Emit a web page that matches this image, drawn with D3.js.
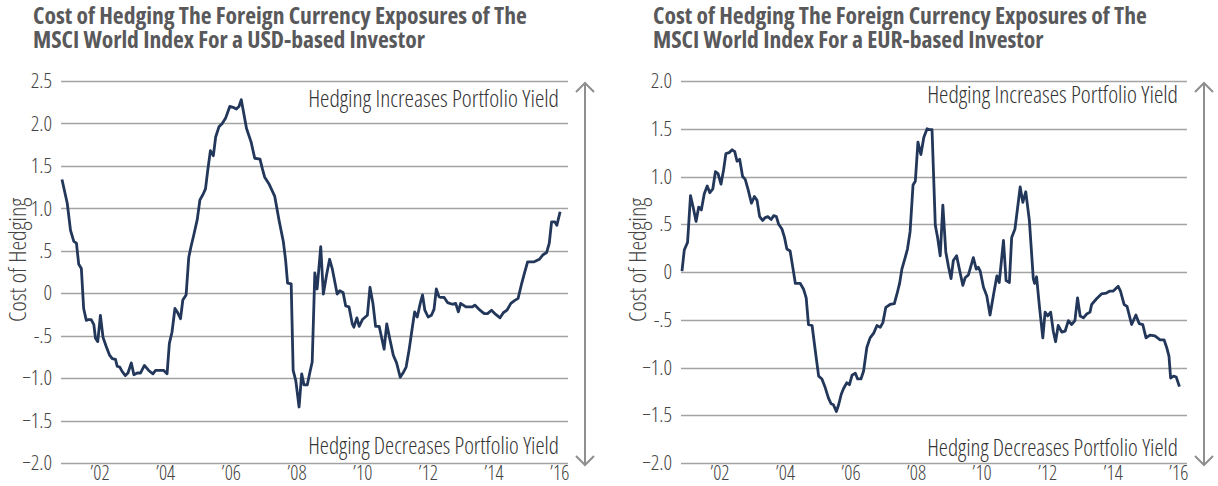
<!DOCTYPE html>
<html>
<head>
<meta charset="utf-8">
<script src="https://cdn.jsdelivr.net/npm/d3@7.9.0/dist/d3.min.js"></script>
<style>
  body { margin: 0; background: #fff; }
  svg text { font-family: "Open Sans", "Liberation Sans Narrow", "DejaVu Sans Condensed", sans-serif; font-stretch: condensed; }
</style>
</head>
<body>
<svg id="chart" width="1218" height="486"></svg>
<script>
// values, [year, cost of hedging]
const usdPoints = [
  [2000.86,1.34],[2001.02,1.06],[2001.12,0.74],[2001.22,0.61],[2001.30,0.59],[2001.37,0.34],[2001.45,0.29],
  [2001.52,-0.18],[2001.60,-0.32],[2001.67,-0.31],[2001.75,-0.31],[2001.83,-0.37],[2001.88,-0.53],[2001.95,-0.57],
  [2002.03,-0.26],[2002.11,-0.52],[2002.21,-0.63],[2002.31,-0.73],[2002.39,-0.77],[2002.49,-0.78],[2002.54,-0.86],
  [2002.62,-0.87],[2002.69,-0.92],[2002.79,-0.97],[2002.87,-0.94],[2002.97,-0.82],[2003.05,-0.96],[2003.15,-0.94],
  [2003.25,-0.94],[2003.37,-0.85],[2003.50,-0.91],[2003.63,-0.95],[2003.71,-0.91],[2003.86,-0.91],[2003.96,-0.91],
  [2004.06,-0.95],[2004.13,-0.59],[2004.21,-0.46],[2004.30,-0.18],[2004.37,-0.22],[2004.47,-0.30],[2004.54,-0.08],
  [2004.64,-0.02],[2004.72,0.42],[2004.79,0.55],[2004.87,0.68],[2004.98,0.87],[2005.06,1.10],[2005.15,1.16],
  [2005.23,1.23],[2005.30,1.45],[2005.38,1.68],[2005.47,1.62],[2005.54,1.84],[2005.64,1.96],[2005.74,2.00],
  [2005.84,2.06],[2005.97,2.20],[2006.07,2.19],[2006.17,2.17],[2006.25,2.20],[2006.32,2.28],[2006.48,1.94],
  [2006.62,1.78],[2006.73,1.59],[2006.89,1.58],[2006.96,1.47],[2007.03,1.37],[2007.16,1.29],[2007.27,1.20],
  [2007.34,1.14],[2007.47,0.86],[2007.60,0.61],[2007.67,0.39],[2007.73,0.12],[2007.84,0.11],[2007.90,-0.91],
  [2007.98,-1.03],[2008.08,-1.34],[2008.16,-0.95],[2008.23,-1.08],[2008.33,-1.08],[2008.41,-0.93],[2008.48,-0.81],
  [2008.56,0.24],[2008.63,0.05],[2008.74,0.55],[2008.82,-0.01],[2008.92,0.22],[2009.01,0.40],[2009.09,0.29],
  [2009.24,-0.01],[2009.32,0.03],[2009.42,0.01],[2009.50,-0.15],[2009.60,-0.16],[2009.70,-0.36],[2009.75,-0.40],
  [2009.84,-0.29],[2009.91,-0.39],[2010.01,-0.31],[2010.16,-0.26],[2010.24,0.07],[2010.33,-0.12],[2010.41,-0.39],
  [2010.52,-0.39],[2010.67,-0.66],[2010.75,-0.36],[2010.85,-0.55],[2010.95,-0.73],[2011.05,-0.82],[2011.16,-0.99],
  [2011.26,-0.93],[2011.34,-0.87],[2011.43,-0.67],[2011.53,-0.40],[2011.60,-0.22],[2011.68,-0.28],[2011.77,-0.12],
  [2011.84,-0.02],[2011.91,-0.20],[2012.01,-0.28],[2012.11,-0.26],[2012.19,-0.19],[2012.26,0.05],[2012.34,-0.04],
  [2012.40,-0.05],[2012.50,-0.05],[2012.60,-0.11],[2012.75,-0.13],[2012.85,-0.12],[2012.93,-0.22],[2013.00,-0.12],
  [2013.16,-0.16],[2013.36,-0.16],[2013.43,-0.14],[2013.56,-0.19],[2013.72,-0.24],[2013.82,-0.24],[2013.94,-0.20],
  [2014.07,-0.25],[2014.20,-0.29],[2014.30,-0.23],[2014.41,-0.20],[2014.53,-0.12],[2014.63,-0.09],[2014.75,-0.06],
  [2014.85,0.10],[2014.94,0.23],[2015.04,0.37],[2015.24,0.37],[2015.40,0.40],[2015.50,0.45],[2015.62,0.48],
  [2015.70,0.59],[2015.77,0.84],[2015.87,0.84],[2015.93,0.80],[2016.03,0.96]
];

const eurPoints = [
  [2000.86,0.01],[2000.93,0.23],[2001.03,0.31],[2001.12,0.80],[2001.20,0.68],[2001.29,0.53],[2001.37,0.68],
  [2001.45,0.65],[2001.54,0.82],[2001.63,0.90],[2001.71,0.83],[2001.80,0.87],[2001.88,1.05],[2001.96,1.03],
  [2002.05,0.92],[2002.13,1.07],[2002.20,1.24],[2002.30,1.25],[2002.39,1.28],[2002.47,1.26],[2002.54,1.16],
  [2002.62,1.18],[2002.71,1.00],[2002.79,0.97],[2002.88,0.86],[2002.98,0.72],[2003.07,0.79],[2003.15,0.75],
  [2003.23,0.58],[2003.32,0.54],[2003.40,0.57],[2003.48,0.58],[2003.58,0.55],[2003.66,0.59],[2003.74,0.58],
  [2003.81,0.50],[2003.91,0.45],[2003.99,0.36],[2004.06,0.24],[2004.16,0.22],[2004.25,0.03],[2004.32,-0.12],
  [2004.47,-0.12],[2004.57,-0.18],[2004.65,-0.27],[2004.72,-0.55],[2004.83,-0.56],[2004.93,-0.83],[2005.03,-1.09],
  [2005.13,-1.12],[2005.23,-1.21],[2005.33,-1.32],[2005.41,-1.38],[2005.48,-1.39],[2005.57,-1.46],[2005.64,-1.39],
  [2005.72,-1.28],[2005.79,-1.22],[2005.89,-1.16],[2005.97,-1.18],[2006.05,-1.08],[2006.15,-1.06],[2006.22,-1.12],
  [2006.32,-1.12],[2006.40,-1.04],[2006.50,-0.79],[2006.60,-0.69],[2006.71,-0.64],[2006.81,-0.56],[2006.91,-0.58],
  [2006.99,-0.53],[2007.08,-0.37],[2007.21,-0.34],[2007.34,-0.33],[2007.42,-0.23],[2007.50,-0.12],[2007.57,0.03],
  [2007.67,0.15],[2007.74,0.24],[2007.82,0.42],[2007.91,0.91],[2007.98,0.95],[2008.06,1.36],[2008.15,1.23],
  [2008.24,1.41],[2008.34,1.50],[2008.42,1.49],[2008.49,1.49],[2008.59,0.49],[2008.66,0.36],[2008.74,0.17],
  [2008.82,0.70],[2008.91,0.21],[2008.99,0.06],[2009.07,-0.07],[2009.14,0.12],[2009.24,0.17],[2009.33,0.02],
  [2009.43,-0.14],[2009.50,-0.06],[2009.60,-0.03],[2009.75,0.15],[2009.84,0.03],[2009.90,0.05],[2009.96,0.01],
  [2010.06,-0.16],[2010.16,-0.25],[2010.26,-0.45],[2010.37,-0.23],[2010.47,-0.04],[2010.54,-0.11],[2010.67,0.33],
  [2010.75,-0.09],[2010.85,-0.11],[2010.92,0.36],[2011.02,0.45],[2011.18,0.89],[2011.26,0.73],[2011.35,0.84],
  [2011.46,0.54],[2011.58,-0.07],[2011.62,-0.12],[2011.68,-0.05],[2011.77,-0.37],[2011.87,-0.69],[2011.94,-0.42],
  [2012.02,-0.46],[2012.11,-0.42],[2012.19,-0.62],[2012.26,-0.73],[2012.34,-0.56],[2012.45,-0.63],[2012.55,-0.62],
  [2012.65,-0.51],[2012.75,-0.55],[2012.85,-0.51],[2012.93,-0.27],[2013.01,-0.46],[2013.11,-0.48],[2013.21,-0.44],
  [2013.31,-0.42],[2013.36,-0.34],[2013.51,-0.28],[2013.66,-0.23],[2013.81,-0.22],[2013.92,-0.20],[2014.02,-0.20],
  [2014.17,-0.15],[2014.24,-0.20],[2014.35,-0.34],[2014.44,-0.36],[2014.58,-0.55],[2014.71,-0.45],[2014.81,-0.54],
  [2014.92,-0.55],[2015.02,-0.69],[2015.14,-0.66],[2015.29,-0.67],[2015.45,-0.71],[2015.57,-0.71],[2015.65,-0.79],
  [2015.72,-0.88],[2015.77,-1.11],[2015.86,-1.09],[2015.94,-1.10],[2016.04,-1.20]
];

const usdTicks = [2.5, 2.0, 1.5, 1.0, 0.5, 0, -0.5, -1.0, -1.5, -2.0];
const eurTicks = [2.0, 1.5, 1.0, 0.5, 0, -0.5, -1.0, -1.5, -2.0];
const yearTicks = [2002, 2004, 2006, 2008, 2010, 2012, 2014, 2016];
const yearLabels = ["’02", "’04", "’06", "’08", "’10", "’12", "’14", "’16"];
const usdTitle = ["Cost of Hedging The Foreign Currency Exposures of The", "MSCI World Index For a USD-based Investor"];
const eurTitle = ["Cost of Hedging The Foreign Currency Exposures of The", "MSCI World Index For a EUR-based Investor"];
const upLabel = "Hedging Increases Portfolio Yield";
const downLabel = "Hedging Decreases Portfolio Yield";
const yTitle = "Cost of Hedging";

const svg = d3.select('#chart');
const lineColor = '#22375a';
const gridColor = '#a3a3a3';
const textColor = '#444';

function fmt(v) {
  if (v === 0) return '0';
  if (Math.abs(v) === 0.5) return v < 0 ? '-.5' : '.5';
  return d3.format('.1f')(v);
}

// scale the font so the text spans the wanted width
function fitWidth(sel, target) {
  const size = +sel.attr('font-size');
  const w = sel.node().getComputedTextLength();
  sel.attr('font-size', size * target / w);
}

function drawPanel(p) {
  const x = d3.scaleLinear().domain([2000.83, 2016.27]).range([p.left, p.right]);
  const y = d3.scaleLinear().domain([p.ticks[p.ticks.length - 1], p.ticks[0]]).range([463, 81]);

  const g = svg.append('g');

  // title
  const t1 = g.append('text').attr('x', p.titleX).attr('y', 24)
    .attr('font-size', 20).attr('font-weight', 'bold').attr('fill', '#59595b')
    .text(p.title[0]);
  fitWidth(t1, 494);
  g.append('text').attr('x', p.titleX).attr('y', 48)
    .attr('font-size', t1.attr('font-size')).attr('font-weight', 'bold').attr('fill', '#59595b')
    .text(p.title[1]);

  // grid
  g.append('g').selectAll('line').data(p.ticks).join('line')
    .attr('x1', p.left).attr('x2', p.right)
    .attr('y1', d => Math.round(y(d)) + 0.5).attr('y2', d => Math.round(y(d)) + 0.5)
    .attr('stroke', gridColor).attr('stroke-width', 1.3);

  // y axis labels
  const yAxis = g.append('g').attr('transform', `translate(${p.left},0)`)
    .call(d3.axisLeft(y).tickValues(p.ticks).tickFormat(fmt).tickSize(0).tickPadding(9));
  yAxis.select('.domain').remove();
  yAxis.selectAll('text').attr('font-size', 21).attr('font-weight', 300).attr('fill', textColor)
    .style('font-family', null);

  // x axis labels
  const xAxis = g.append('g').attr('transform', `translate(0,${y.range()[0]})`)
    .call(d3.axisBottom(x).tickValues(yearTicks).tickFormat((d, i) => yearLabels[i]).tickSize(0).tickPadding(3));
  xAxis.select('.domain').remove();
  xAxis.selectAll('text').attr('font-size', 20).attr('font-weight', 300).attr('fill', textColor)
    .style('font-family', null);

  // y title
  const yt = g.append('text')
    .attr('transform', `translate(${p.yTitleX},${(y.range()[0] + y.range()[1]) / 2 - 12}) rotate(-90)`)
    .attr('text-anchor', 'middle').attr('font-size', 19).attr('font-weight', 300).attr('fill', textColor)
    .text(yTitle);
  fitWidth(yt, 124);

  // annotations
  const up = g.append('text').attr('x', x.range()[1] - 9).attr('y', p.upY)
    .attr('text-anchor', 'end').attr('font-size', 19).attr('font-weight', 300).attr('fill', '#333').text(upLabel);
  fitWidth(up, 251);
  const down = g.append('text').attr('x', x.range()[1] - 9).attr('y', p.downY)
    .attr('text-anchor', 'end').attr('font-size', 19).attr('font-weight', 300).attr('fill', '#333').text(downLabel);
  fitWidth(down, 251);

  // arrow on the right side
  const ax = p.right + 17;
  const yTop = y.range()[1] + 2, yBot = y.range()[0] + 2;
  g.append('line').attr('x1', ax).attr('x2', ax).attr('y1', yTop).attr('y2', yBot)
    .attr('stroke', '#8f8f8f').attr('stroke-width', 2);
  g.append('path').attr('d', `M${ax - 9},${yTop + 9}L${ax},${yTop}L${ax + 9},${yTop + 9}`)
    .attr('fill', 'none').attr('stroke', '#8f8f8f').attr('stroke-width', 2);
  g.append('path').attr('d', `M${ax - 9},${yBot - 9}L${ax},${yBot}L${ax + 9},${yBot - 9}`)
    .attr('fill', 'none').attr('stroke', '#8f8f8f').attr('stroke-width', 2);

  // series
  g.append('path').datum(p.points)
    .attr('fill', 'none').attr('stroke', lineColor).attr('stroke-width', 2.8)
    .attr('stroke-linejoin', 'round')
    .attr('d', d3.line().x(d => x(d[0])).y(d => y(d[1])));
}

drawPanel({ points: usdPoints, ticks: usdTicks, title: usdTitle, left: 61, right: 568,
  titleX: 33, yTitleX: 26, upY: 107, downY: 454 });
drawPanel({ points: eurPoints, ticks: eurTicks, title: eurTitle, left: 681, right: 1187,
  titleX: 653, yTitleX: 646, upY: 103, downY: 456 });
</script>
</body>
</html>
